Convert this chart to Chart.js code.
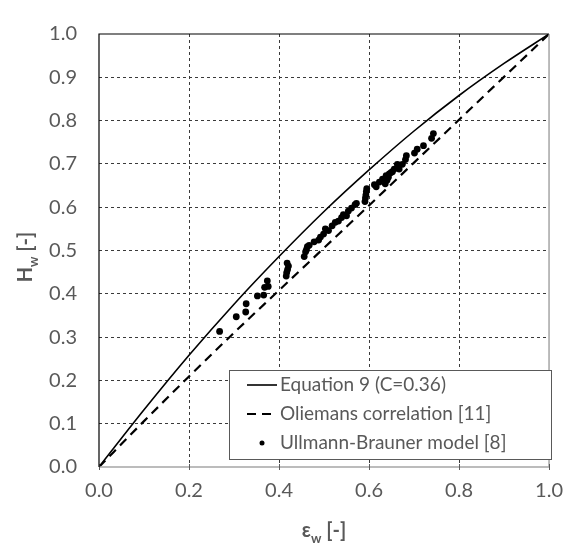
<!DOCTYPE html>
<html>
<head>
<meta charset="utf-8">
<script src="https://cdn.jsdelivr.net/npm/chart.js@4.4.1/dist/chart.umd.min.js"></script>
<style>
  html, body { margin: 0; padding: 0; background: #fff; }
  #wrap { width: 575px; height: 544px; }
</style>
</head>
<body>
<div id="wrap"><canvas id="chart" width="575" height="544"></canvas></div>
<script>
/* ─── DATA ────────────────────────────────────────────────── */
const lineEps   = [0, 0.1, 0.2, 0.3, 0.4, 0.5, 0.6, 0.7, 0.8, 0.9, 1.0];
const eq9H      = [0, 0.132, 0.258, 0.376, 0.486, 0.590, 0.686, 0.776, 0.858, 0.932, 1.0];
const oliemansH = [0, 0.106, 0.209, 0.310, 0.408, 0.506, 0.604, 0.703, 0.802, 0.901, 1.0];

const ubEps = [0.268, 0.305, 0.326, 0.327, 0.352, 0.366, 0.368, 0.376, 0.374,
               0.416, 0.417, 0.419, 0.421, 0.418, 0.456, 0.459, 0.463, 0.461,
               0.467, 0.478, 0.488, 0.492, 0.499, 0.503, 0.510, 0.518, 0.525,
               0.532, 0.539, 0.543, 0.550, 0.554, 0.561, 0.569, 0.572,
               0.591, 0.592, 0.593, 0.594, 0.595, 0.616, 0.612, 0.623, 0.630,
               0.636, 0.638, 0.640, 0.643, 0.645, 0.649, 0.652, 0.656, 0.663,
               0.667, 0.674, 0.681, 0.683, 0.701, 0.707, 0.721, 0.739, 0.743];
const ubH   = [0.313, 0.347, 0.358, 0.377, 0.395, 0.397, 0.415, 0.417, 0.430,
               0.441, 0.449, 0.456, 0.464, 0.471, 0.486, 0.497, 0.509, 0.502,
               0.512, 0.520, 0.524, 0.531, 0.538, 0.550, 0.546, 0.557, 0.565,
               0.568, 0.576, 0.583, 0.580, 0.591, 0.598, 0.606, 0.609,
               0.613, 0.621, 0.628, 0.636, 0.643, 0.647, 0.652, 0.658, 0.665,
               0.654, 0.673, 0.662, 0.669, 0.677, 0.680, 0.682, 0.688, 0.699,
               0.688, 0.699, 0.710, 0.719, 0.725, 0.734, 0.742, 0.759, 0.770];

const seriesNames = ['Equation 9 (C=0.36)', 'Oliemans correlation [11]', 'Ullmann-Brauner model [8]'];

/* ─── STYLE ───────────────────────────────────────────────── */
const FONT      = 'Lato, "Open Sans", sans-serif';
const TEXT_GREY = '#595959';
const toXY = (xs, ys) => xs.map((x, i) => ({ x, y: ys[i] }));

// hide grid lines on the frame edges, the frame plugin draws those
const gridColor = c => (c.tick && (c.tick.value === 0 || Math.abs(c.tick.value - 1) < 1e-9)) ? 'rgba(0,0,0,0)' : '#3a3a3a';

/* ─── PLUGINS ─────────────────────────────────────────────── */
const frame = {
  id: 'frame',
  afterDatasetsDraw(chart) {
    const { ctx, chartArea: a } = chart;
    ctx.save();
    ctx.lineWidth = 1.5;
    ctx.strokeStyle = '#a6a6a6';
    ctx.beginPath();
    ctx.moveTo(a.left, a.bottom); ctx.lineTo(a.right, a.bottom); ctx.lineTo(a.right, a.top);
    ctx.stroke();
    // small tick marks crossing the bottom axis
    ctx.lineWidth = 1;
    ctx.strokeStyle = '#595959';
    chart.scales.x.ticks.forEach(t => {
      const px = Math.round(chart.scales.x.getPixelForValue(t.value)) + 0.5;
      ctx.beginPath(); ctx.moveTo(px, a.bottom - 3); ctx.lineTo(px, a.bottom + 3); ctx.stroke();
    });
    ctx.strokeStyle = '#000';
    ctx.lineWidth = 1.2;
    ctx.beginPath();
    ctx.moveTo(a.left, a.bottom); ctx.lineTo(a.left, a.top); ctx.lineTo(a.right, a.top);
    ctx.stroke();
    ctx.restore();
  }
};

function drawSubText(ctx, main, sub, rest, size) {
  ctx.font = `bold ${size}px ${FONT}`;
  const w1 = ctx.measureText(main).width;
  const w3 = ctx.measureText(rest).width;
  ctx.font = `bold ${Math.round(size * 0.65)}px ${FONT}`;
  const w2 = ctx.measureText(sub).width;
  let x = -(w1 + w2 + w3) / 2;
  ctx.textBaseline = 'alphabetic';
  ctx.textAlign = 'left';
  ctx.font = `bold ${size}px ${FONT}`;
  ctx.fillText(main, x, 0); x += w1;
  ctx.font = `bold ${Math.round(size * 0.65)}px ${FONT}`;
  ctx.fillText(sub, x, size * 0.28); x += w2;
  ctx.font = `bold ${size}px ${FONT}`;
  ctx.fillText(rest, x, 0);
}

const axisTitles = {
  id: 'axisTitles',
  afterDraw(chart) {
    const { ctx, chartArea: a } = chart;
    ctx.save();
    ctx.fillStyle = TEXT_GREY;
    ctx.translate((a.left + a.right) / 2, 537);
    drawSubText(ctx, 'ε', 'w', ' [-]', 20);
    ctx.restore();
    ctx.save();
    ctx.fillStyle = TEXT_GREY;
    ctx.translate(32, 257);
    ctx.rotate(-Math.PI / 2);
    drawSubText(ctx, 'H', 'w', ' [-]', 20);
    ctx.restore();
  }
};

const innerLegend = {
  id: 'innerLegend',
  afterDraw(chart) {
    const { ctx } = chart;
    const box = { x: 229, y: 370, w: 322, h: 89 };
    ctx.save();
    ctx.fillStyle = '#fff';
    ctx.fillRect(box.x, box.y, box.w, box.h);
    ctx.strokeStyle = '#595959';
    ctx.lineWidth = 1;
    ctx.strokeRect(box.x + 0.5, box.y + 0.5, box.w, box.h);
    chart.data.datasets.forEach((ds, i) => {
      const y = box.y + 15 + i * 29;
      ctx.strokeStyle = '#000';
      ctx.fillStyle = '#000';
      if (ds.showLine) {
        ctx.lineWidth = ds.borderWidth;
        ctx.setLineDash(ds.borderDash || []);
        ctx.beginPath(); ctx.moveTo(247, y); ctx.lineTo(277, y); ctx.stroke();
        ctx.setLineDash([]);
      } else {
        ctx.beginPath(); ctx.arc(262, y, 2.5, 0, Math.PI * 2); ctx.fill();
      }
      ctx.fillStyle = TEXT_GREY;
      ctx.font = `19px ${FONT}`;
      ctx.textBaseline = 'middle';
      ctx.textAlign = 'left';
      ctx.fillText(ds.label, 280, y);
    });
    ctx.restore();
  }
};

/* ─── CHART ───────────────────────────────────────────────── */
new Chart(document.getElementById('chart'), {
  type: 'scatter',
  data: {
    datasets: [
      {
        label: seriesNames[0],
        data: toXY(lineEps, eq9H),
        showLine: true,
        borderColor: '#000',
        borderWidth: 1.6,
        pointRadius: 0,
        cubicInterpolationMode: 'monotone',
        order: 2,
      },
      {
        label: seriesNames[1],
        data: toXY(lineEps, oliemansH),
        showLine: true,
        borderColor: '#000',
        borderWidth: 2.2,
        borderDash: [9, 6],
        pointRadius: 0,
        cubicInterpolationMode: 'monotone',
        order: 1,
      },
      {
        label: seriesNames[2],
        data: toXY(ubEps, ubH),
        showLine: false,
        backgroundColor: '#000',
        borderColor: '#000',
        borderWidth: 0,
        pointRadius: 3.4,
        order: 0,
      },
    ],
  },
  options: {
    responsive: false,
    devicePixelRatio: 1,
    animation: false,
    layout: { padding: { left: 0, top: 21, right: 17, bottom: 0 } },
    plugins: { legend: { display: false }, tooltip: { enabled: false } },
    scales: {
      x: {
        type: 'linear', min: 0, max: 1,
        afterFit: s => { s.height = 77; },
        border: { display: false, dash: [3, 3] },
        grid: { color: gridColor, lineWidth: 1, drawTicks: false },
        ticks: {
          stepSize: 0.2, padding: 12, color: TEXT_GREY,
          font: { family: FONT, size: 20 },
          callback: v => v.toFixed(1),
        },
      },
      y: {
        type: 'linear', min: 0, max: 1,
        afterFit: s => { s.width = 99; },
        border: { display: false, dash: [3, 3] },
        grid: { color: gridColor, lineWidth: 1, drawTicks: false },
        ticks: {
          stepSize: 0.1, padding: 22, color: TEXT_GREY,
          font: { family: FONT, size: 20 },
          callback: v => v.toFixed(1),
        },
      },
    },
  },
  plugins: [frame, axisTitles, innerLegend],
});
</script>
</body>
</html>
